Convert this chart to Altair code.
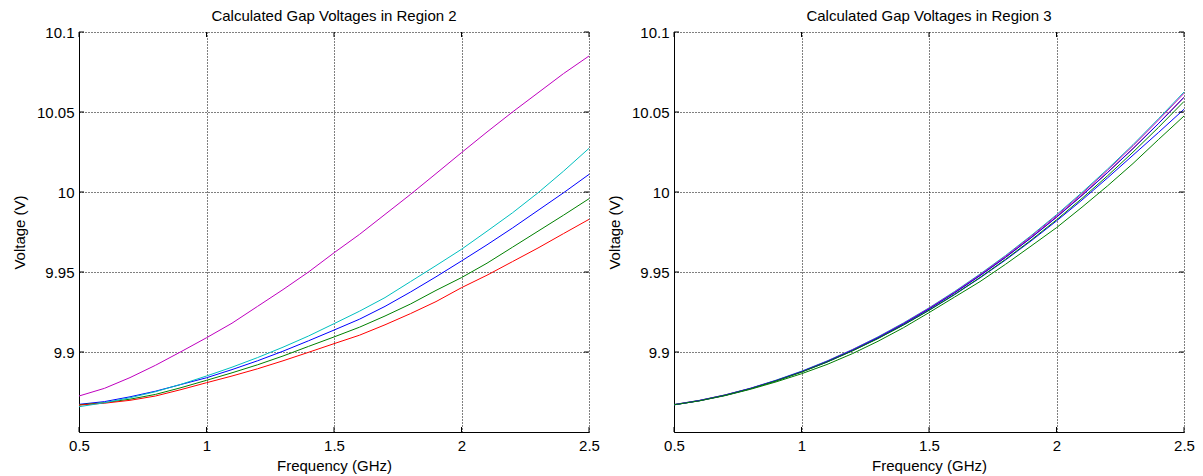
import altair as alt
import pandas as pd

FONT = "Liberation Sans"

freq = [0.5, 0.6, 0.7, 0.8, 0.9, 1.0, 1.1, 1.2, 1.3, 1.4, 1.5,
        1.6, 1.7, 1.8, 1.9, 2.0, 2.1, 2.2, 2.3, 2.4, 2.5]

# Region 2 (left panel)
r2_blue = [9.8673, 9.8690, 9.8720, 9.8755, 9.8797, 9.8839, 9.8890, 9.8945, 9.9005, 9.9070, 9.9137,
           9.9205, 9.9285, 9.9375, 9.9470, 9.9569, 9.9670, 9.9775, 9.9885, 9.9995, 10.0110]
r2_green = [9.8670, 9.8683, 9.8705, 9.8735, 9.8777, 9.8823, 9.8870, 9.8920, 9.8975, 9.9035, 9.9094,
            9.9155, 9.9225, 9.9300, 9.9385, 9.9465, 9.9555, 9.9655, 9.9755, 9.9855, 9.9958]
r2_red = [9.8668, 9.8680, 9.8698, 9.8725, 9.8765, 9.8808, 9.8850, 9.8895, 9.8945, 9.8998, 9.9052,
          9.9105, 9.9170, 9.9240, 9.9315, 9.9402, 9.9480, 9.9565, 9.9650, 9.9740, 9.9829]
r2_cyan = [9.8658, 9.8683, 9.8714, 9.8752, 9.8798, 9.8850, 9.8905, 9.8965, 9.9030, 9.9100, 9.9177,
           9.9255, 9.9340, 9.9440, 9.9540, 9.9642, 9.9755, 9.9870, 9.9995, 10.0130, 10.0273]
r2_magenta = [9.8725, 9.8773, 9.8840, 9.8917, 9.9002, 9.9089, 9.9180, 9.9285, 9.9390, 9.9500, 9.9620,
              9.9735, 9.9860, 9.9985, 10.0115, 10.0246, 10.0375, 10.0500, 10.0620, 10.0740, 10.0850]

# Region 3 (right panel)
r3_blue = [9.8670, 9.8696, 9.8729, 9.8770, 9.8819, 9.8875, 9.8937, 9.9008, 9.9085, 9.9169, 9.9260,
           9.9358, 9.9463, 9.9575, 9.9694, 9.9819, 9.9950, 10.0088, 10.0230, 10.0372, 10.0517]
r3_green = [9.8670, 9.8695, 9.8727, 9.8767, 9.8813, 9.8864, 9.8922, 9.8990, 9.9067, 9.9152, 9.9246,
            9.9343, 9.9440, 9.9548, 9.9662, 9.9777, 9.9905, 10.0038, 10.0178, 10.0328, 10.0475]
r3_red = [9.8671, 9.8697, 9.8731, 9.8772, 9.8821, 9.8877, 9.8941, 9.9012, 9.9090, 9.9176, 9.9270,
          9.9370, 9.9478, 9.9592, 9.9714, 9.9843, 9.9980, 10.0122, 10.0272, 10.0428, 10.0592]
r3_cyan = [9.8672, 9.8698, 9.8732, 9.8774, 9.8824, 9.8880, 9.8944, 9.9016, 9.9095, 9.9182, 9.9276,
           9.9378, 9.9487, 9.9603, 9.9727, 9.9858, 9.9997, 10.0143, 10.0296, 10.0458, 10.0625]
r3_magenta = [9.8671, 9.8697, 9.8731, 9.8773, 9.8822, 9.8878, 9.8942, 9.9014, 9.9092, 9.9179, 9.9273,
              9.9374, 9.9483, 9.9598, 9.9722, 9.9852, 9.9990, 10.0136, 10.0289, 10.0450, 10.0617]
r3_yellow = [9.8670, 9.8696, 9.8730, 9.8772, 9.8821, 9.8877, 9.8940, 9.9011, 9.9089, 9.9175, 9.9268,
             9.9369, 9.9477, 9.9591, 9.9713, 9.9842, 9.9978, 10.0121, 10.0271, 10.0428, 10.0592]
r3_gray = [9.8670, 9.8695, 9.8729, 9.8770, 9.8819, 9.8874, 9.8937, 9.9007, 9.9084, 9.9169, 9.9261,
           9.9360, 9.9466, 9.9579, 9.9699, 9.9826, 9.9960, 10.0101, 10.0249, 10.0404, 10.0566]

series_names = ["s1", "s2", "s3", "s4", "s5", "s6", "s7"]
series_colors = ["#0000FF", "#008000", "#FF0000", "#00BFBF", "#BF00BF", "#BFBF00", "#404040"]

x_ticks = [0.5, 1.0, 1.5, 2.0, 2.5]
y_ticks = [9.9, 9.95, 10.0, 10.05, 10.1]

W, H = 510, 400


def long_df(series):
    rows = []
    for order, (name, vals) in enumerate(series):
        for f, v in zip(freq, vals):
            rows.append({"f": f, "v": v, "s": name, "o": order})
    return pd.DataFrame(rows)


left_df = long_df(list(zip(series_names[:5], [r2_blue, r2_green, r2_red, r2_cyan, r2_magenta])))
right_df = long_df(list(zip(series_names, [r3_blue, r3_green, r3_red, r3_cyan, r3_magenta, r3_yellow, r3_gray])))

xt_df = pd.DataFrame({"f": x_ticks})
yt_df = pd.DataFrame({"v": y_ticks})

xscale = alt.Scale(domain=[0.5, 2.5], nice=False, zero=False)
yscale = alt.Scale(domain=[9.85, 10.1], nice=False, zero=False)

xaxis = alt.Axis(values=x_ticks, format="~g", title="Frequency (GHz)", grid=True,
                 gridColor="black", gridDash=[1, 2], gridOpacity=1, gridWidth=1,
                 domainColor="black", domainWidth=1, tickSize=0, labelPadding=6,
                 labelFont=FONT, labelFontSize=15, labelColor="black",
                 titleFont=FONT, titleFontSize=15, titleFontWeight="normal",
                 titleColor="black", titlePadding=5, labelFlush=False)
yaxis = alt.Axis(values=y_ticks, format="~g", title="Voltage (V)", grid=True,
                 gridColor="black", gridDash=[1, 2], gridOpacity=1, gridWidth=1,
                 domainColor="black", domainWidth=1, tickSize=0, labelPadding=5,
                 labelFont=FONT, labelFontSize=15, labelColor="black",
                 titleFont=FONT, titleFontSize=15, titleFontWeight="normal",
                 titleColor="black", titlePadding=9, labelFlush=False)


def panel(df, title, n):
    lines = alt.Chart(df).mark_line(strokeWidth=1, clip=True).encode(
        x=alt.X("f:Q", scale=xscale, axis=xaxis),
        y=alt.Y("v:Q", scale=yscale, axis=yaxis),
        color=alt.Color("s:N", scale=alt.Scale(domain=series_names[:n], range=series_colors[:n]),
                        legend=None),
        order=alt.Order("o:Q"),
    )
    tb = alt.Chart(xt_df).mark_rule(color="black", strokeWidth=1).encode(
        x=alt.X("f:Q", scale=xscale), y=alt.value(H), y2=alt.value(H - 5))
    tt = alt.Chart(xt_df).mark_rule(color="black", strokeWidth=1).encode(
        x=alt.X("f:Q", scale=xscale), y=alt.value(0), y2=alt.value(5))
    tl = alt.Chart(yt_df).mark_rule(color="black", strokeWidth=1).encode(
        y=alt.Y("v:Q", scale=yscale), x=alt.value(0), x2=alt.value(5))
    tr = alt.Chart(yt_df).mark_rule(color="black", strokeWidth=1).encode(
        y=alt.Y("v:Q", scale=yscale), x=alt.value(W), x2=alt.value(W - 5))
    return alt.layer(lines, tb, tt, tl, tr).properties(
        width=W, height=H,
        title=alt.Title(title, font=FONT, fontSize=15, fontWeight="normal", color="black",
                        anchor="middle", baseline="alphabetic", offset=-11),
    )


left = panel(left_df, "Calculated Gap Voltages in Region 2", 5)
right = panel(right_df, "Calculated Gap Voltages in Region 3", 7)

chart = alt.hconcat(left, right, spacing=85, bounds="flush").properties(
    padding={"left": 12, "top": 9, "right": 5, "bottom": 5},
    background="white",
).configure_view(stroke=None)

chart.save("out.html", embed_options={"renderer": "svg", "actions": False})
